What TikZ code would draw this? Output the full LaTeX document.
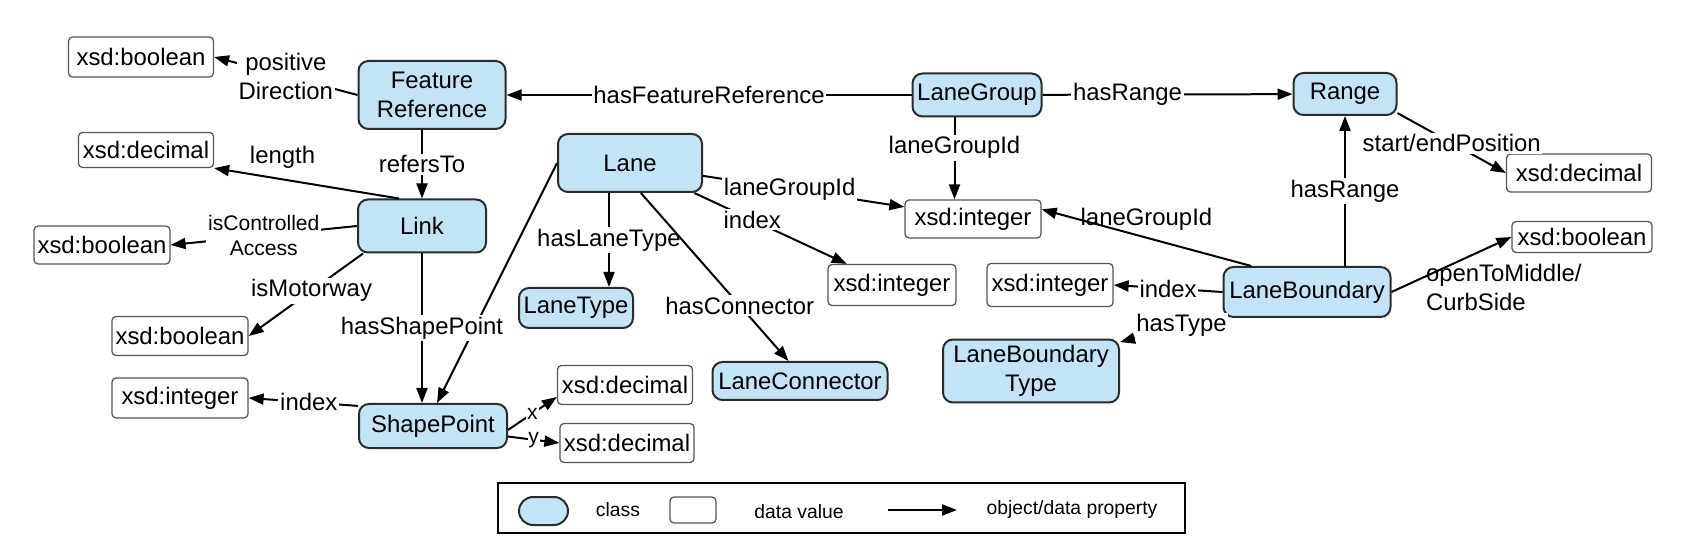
\documentclass[tikz,border=0pt]{standalone}
\usepackage{fontspec}
\setmainfont{Liberation Sans}
\usetikzlibrary{arrows.meta}
\definecolor{clsAzul}{HTML}{C2E4F5}
\definecolor{clsBorde}{HTML}{2B2B2B}
\definecolor{valBorde}{HTML}{555555}

\begin{document}
\begin{tikzpicture}[
      cls/.style 2 args={rounded corners=0.2cm, draw=clsBorde, line width=0.04cm, fill=clsAzul,
                  minimum width=#1cm, minimum height=#2cm, inner xsep=2pt, align=center},
      val/.style 2 args={rounded corners=0.08cm, draw=valBorde, line width=0.025cm, fill=white,
                  minimum width=#1cm, minimum height=#2cm, inner xsep=2pt},
      prop/.style={-{Triangle[length=0.3cm,width=0.22cm]}, line width=0.04cm},
      lbl/.style={fill=white, inner sep=1pt, align=center},
      small/.style={font=\fontsize{12}{14}\selectfont},
      legend/.style={font=\fontsize{11}{13}\selectfont},
      every node/.style={font=\fontsize{13.6}{16.5}\selectfont}]
    \useasboundingbox (0,0) rectangle (33.86,10.88);
    % Clases
    \node[cls={2.94}{1.36}] (fr)     at (8.64,8.98)  {Feature\\Reference};
    \node[cls={2.56}{1.06}] (link)   at (8.44,6.36)  {Link};
    \node[cls={2.88}{1.16}] (lane)   at (12.6,7.62)  {Lane};
    \node[cls={2.58}{0.86}] (lgroup) at (19.54,8.98) {LaneGroup};
    \node[cls={2.06}{0.84}] (range)  at (26.9,9.0)   {Range};
    \node[cls={2.28}{0.8}]  (ltype)  at (11.52,4.72) {LaneType};
    \node[cls={3.5}{0.76}]  (lconn)  at (16.0,3.26)  {LaneConnector};
    \node[cls={2.96}{0.88}] (spoint) at (8.66,2.36)  {ShapePoint};
    \node[cls={3.34}{1.0}]  (lbound) at (26.14,5.04) {LaneBoundary};
    \node[cls={3.52}{1.18}] (lbtype) at (20.62,3.46) {LaneBoundary\\Type};
    % Valores
    \node[val={2.9}{0.8}]   (posdir)   at (2.82,9.74)  {xsd:boolean};
    \node[val={2.7}{0.7}]   (linklen)  at (2.92,7.88)  {xsd:decimal};
    \node[val={2.7}{0.76}]  (linkca)   at (2.04,5.98)  {xsd:boolean};
    \node[val={2.72}{0.78}] (linkmw)   at (3.6,4.16)   {xsd:boolean};
    \node[val={2.72}{0.8}]  (spint)    at (3.6,2.92)   {xsd:integer};
    \node[val={2.7}{0.78}]  (spx)      at (12.5,3.18)  {xsd:decimal};
    \node[val={2.68}{0.78}] (spy)      at (12.54,2.02) {xsd:decimal};
    \node[val={2.72}{0.76}] (lgint)    at (19.46,6.5)  {xsd:integer};
    \node[val={2.56}{0.82}] (laneint)  at (17.84,5.18) {xsd:integer};
    \node[val={2.9}{0.76}]  (rangedec) at (31.58,7.42) {xsd:decimal};
    \node[val={2.8}{0.62}]  (lbbool)   at (31.64,6.14) {xsd:boolean};
    \node[val={2.52}{0.86}] (lbint)    at (21.0,5.18)  {xsd:integer};
    % Propiedades
    \draw[prop] (lgroup) -- node[lbl] {hasFeatureReference} (fr);
    \draw[prop] (lgroup) -- node[lbl, pos=0.34] {hasRange} (range);
    \draw[prop] (fr.west) -- node[lbl] {positive\\Direction} (posdir.east);
    \draw[prop] (link.north |- fr.south) -- node[lbl] {refersTo} (link.north);
    \draw[prop] (link.130) -- node[above, pos=0.63, yshift=0.08cm] {length} (linklen.south east);
    \draw[prop] (link.west) -- node[lbl, small] {isControlled\\Access} (linkca.east);
    \draw[prop] (link.205) -- node[lbl, pos=0.45] {isMotorway} (linkmw.east);
    \draw[prop] (lane.west) -- (spoint.80);
    \draw[prop] (link.south) -- node[lbl] {hasShapePoint} (link.south |- spoint.north);
    \draw[prop] (lane.235) -- node[lbl] {hasLaneType} (lane.235 |- ltype.north);
    \draw[prop] (lane.290) -- node[lbl, pos=0.67] {hasConnector} (lconn.120);
    \draw[prop] (lane.350) -- node[lbl, pos=0.43] {laneGroupId} (lgint.170);
    \draw[prop] (lane.335) -- node[lbl, pos=0.38] {index} (laneint.155);
    \draw[prop] (lgroup.225) -- node[lbl, pos=0.37] {laneGroupId} (lgroup.225 |- lgint.north);
    \draw[prop] (range.340) -- node[lbl] {start/endPosition} (rangedec.west);
    \draw[prop] (range.south |- lbound.north) -- node[lbl] {hasRange} (range.south);
    \draw[prop] (lbound.155) -- node[above] {laneGroupId} (lgint.8);
    \draw[prop] (lbound.west) -- node[lbl] {index} (lbint.east);
    \draw[prop] (lbound.east) -- node[pos=0.28, anchor=north west, inner sep=0pt, yshift=0.26cm, align=left] {openToMiddle/\\CurbSide} (lbbool.west);
    \draw[prop] (lbound.195) -- node[lbl, pos=0.4] {hasType} (lbtype.18);
    \draw[prop] (spoint.165) -- node[lbl, pos=0.45] {index} (spint.east);
    \draw[prop] (spoint.357) -- node[lbl, small, inner sep=0.5pt] {x} (spx.190);
    \draw[prop] (spoint.352) -- node[lbl, small, inner sep=0.5pt] {y} (spy.west);
    % Leyenda
    \draw[line width=0.03cm] (9.96,0.22) rectangle (23.7,1.22);
    \node[cls={0.98}{0.56}, rounded corners=0.28cm] (lgcls) at (10.87,0.66) {};
    \node[legend] (lgclstxt) at (12.36,0.68) {class};
    \node[val={0.92}{0.52}] (lgval) at (13.86,0.68) {};
    \node[legend] (lgvaltxt) at (15.98,0.64) {data value};
    \coordinate (lgfrom) at (17.76,0.68);
    \coordinate (lgto) at (19.14,0.68);
    \draw[prop] (lgfrom) -- (lgto);
    \node[legend] (lgproptxt) at (21.44,0.68) {object/data property};
  \end{tikzpicture}
\end{document}
